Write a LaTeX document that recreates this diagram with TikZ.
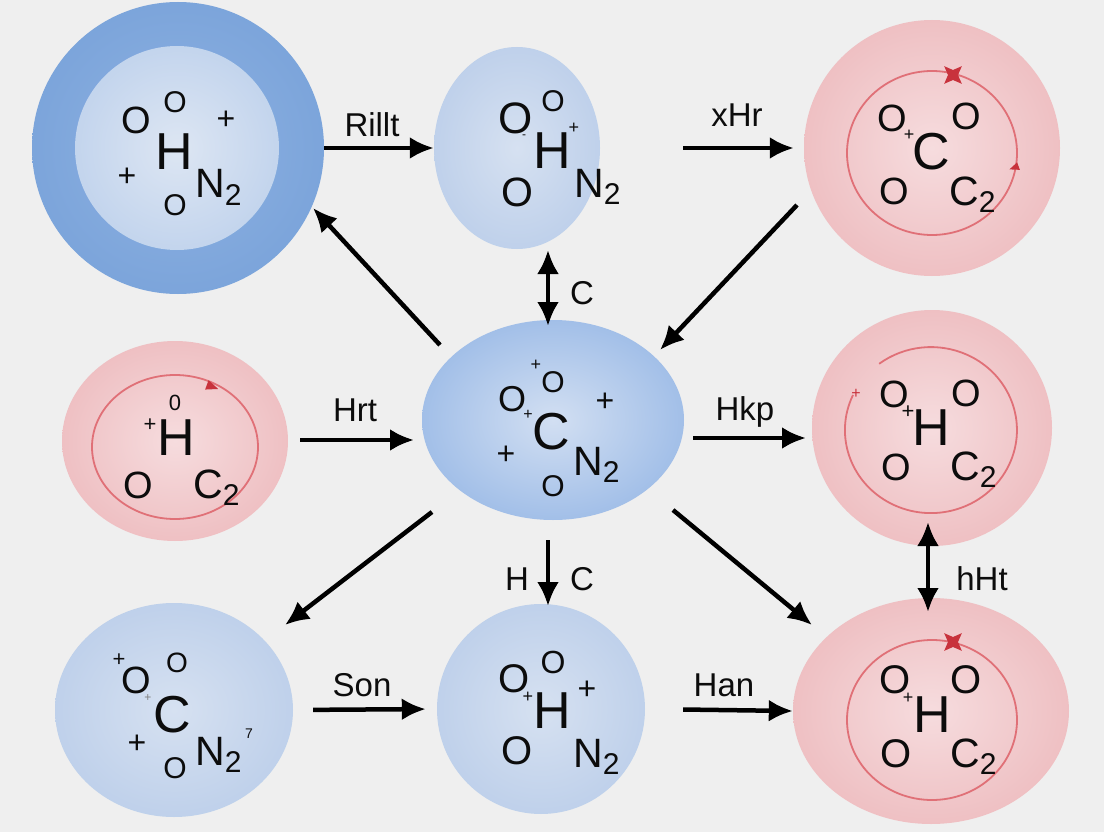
\documentclass[tikz,border=0pt]{standalone}
\usepackage{fontspec}
\setmainfont{Liberation Sans}
\usetikzlibrary{arrows.meta,shapes.geometric}

\definecolor{bgc}{HTML}{EFEFEF}
\definecolor{ink}{HTML}{0C0C0C}
\definecolor{ringc}{HTML}{E07077}
\definecolor{markc}{HTML}{C8323C}
\definecolor{tloutc}{HTML}{8EB2E2}
\definecolor{tloute}{HTML}{6A97D3}
\definecolor{tlinc}{HTML}{DDE6F3}
\definecolor{tline}{HTML}{A9C3E7}
\definecolor{palec}{HTML}{D6E1F1}
\definecolor{palee}{HTML}{A8C0E4}
\definecolor{midc}{HTML}{D2DFF2}
\definecolor{midm}{HTML}{A2BFE8}
\definecolor{mide}{HTML}{6A97D5}
\definecolor{pinkc}{HTML}{F6DCDE}
\definecolor{pinke}{HTML}{E7A4A8}

\pgfdeclareradialshading{tlout}{\pgfpoint{0bp}{0bp}}{color(0bp)=(tloutc); color(50bp)=(tloute)}
\pgfdeclareradialshading{tlin}{\pgfpoint{0bp}{0bp}}{color(0bp)=(tlinc); color(50bp)=(tline)}
\pgfdeclareradialshading{paleball}{\pgfpoint{0bp}{0bp}}{color(0bp)=(palec); color(50bp)=(palee)}
\pgfdeclareradialshading{midball}{\pgfpoint{0bp}{0bp}}{color(0bp)=(midc); color(25bp)=(midm); color(50bp)=(mide)}
\pgfdeclareradialshading{pinkball}{\pgfpoint{0bp}{0bp}}{color(0bp)=(pinkc); color(50bp)=(pinke)}

\newcommand\subtwo{\raisebox{-7pt}{\fontsize{30}{30}\selectfont 2}}

\begin{document}
\begin{tikzpicture}[x=1pt,y=-1pt,
    every node/.style={inner sep=0pt,text=ink},
    arr/.style={line width=4.5pt,-{Latex[length=24pt,width=22pt]}},
    darr/.style={line width=4.5pt,{Latex[length=24pt,width=22pt]}-{Latex[length=24pt,width=22pt]}},
    lbl/.style={font=\fontsize{33}{33}\selectfont,anchor=base},
    big/.style={font=\fontsize{52}{52}\selectfont},
    oo/.style={font=\fontsize{38}{38}\selectfont},
    so/.style={font=\fontsize{30}{30}\selectfont},
    pl/.style={font=\fontsize{32}{32}\selectfont},
    sp/.style={font=\fontsize{18}{18}\selectfont},
    sub/.style={font=\fontsize{41}{41}\selectfont,anchor=base west},
    ring/.style={draw=ringc,line width=1.8pt},
    spark/.style={star,star points=4,star point ratio=0.4,fill=markc,minimum size=10pt},
  ]
  \fill[bgc] (0,0) rectangle (1104,832);
  \useasboundingbox (0,0) rectangle (1104,832);

  % balls
  \node[circle,minimum size=292pt,shading=tlout] (tl) at (178,148) {};
  \node[circle,minimum size=204pt,shading=tlin] (tli) at (177,148) {};
  \node[ellipse,minimum width=166pt,minimum height=202pt,shading=paleball] (tm) at (517,148) {};
  \node[circle,minimum size=256pt,shading=pinkball] (tr) at (932,148) {};
  \node[ellipse,minimum width=226pt,minimum height=200pt,shading=pinkball] (ml) at (175,441) {};
  \node[ellipse,minimum width=262pt,minimum height=200pt,shading=midball] (c) at (553,420) {};
  \node[ellipse,minimum width=240pt,minimum height=236pt,shading=pinkball] (mr) at (932,428) {};
  \node[ellipse,minimum width=238pt,minimum height=214pt,shading=paleball] (bl) at (174,710) {};
  \node[ellipse,minimum width=208pt,minimum height=210pt,shading=paleball] (bm) at (541,709) {};
  \node[ellipse,minimum width=276pt,minimum height=226pt,shading=pinkball] (br) at (931,711) {};

  % rings
  \draw[ring] (932,153) ellipse [x radius=85pt,y radius=82pt];
  \draw[ring] (175,447) ellipse [x radius=83pt,y radius=72pt];
  \draw[ring] (853,395) arc [start angle=155,end angle=487,x radius=86pt,y radius=83pt];
  \draw[ring] (932,720) ellipse [x radius=85pt,y radius=80pt];
  \node[spark] (mk1) at (953,75) {};
  \node[isosceles triangle,fill=markc,minimum width=8pt,minimum height=9pt,rotate=200] (mk2) at (1016,167) {};
  \node[isosceles triangle,fill=markc,minimum width=10pt,minimum height=11pt,rotate=-20] (mk3) at (210,386) {};
  \node[spark] (mk4) at (953,642) {};

  % top left
  \node[oo] (tl1) at (136,120) {O};
  \node[so] (tl2) at (175,102) {O};
  \node[pl] (tl3) at (226,120) {+};
  \node[big] (tl4) at (174,152) {H};
  \node[pl] (tl5) at (127,177) {+};
  \node[so] (tl6) at (175,205) {O};
  \node[sub] (tl7) at (195,198) {N\subtwo};

  % top middle
  \node[font=\fontsize{44}{44}\selectfont] (tm1) at (516,118) {O};
  \node[so] (tm2) at (553,101) {O};
  \node[sp] (tm3) at (574,128) {+};
  \node[font=\fontsize{12}{12}\selectfont] (tm4) at (524,137) {-};
  \node[big] (tm5) at (552,151) {H};
  \node[font=\fontsize{41}{41}\selectfont] (tm6) at (517,192) {O};
  \node[sub] (tm7) at (574,197) {N\subtwo};

  % top right
  \node[oo] (tr1) at (892,118) {O};
  \node[oo] (tr2) at (966,116) {O};
  \node[sp] (tr3) at (909,135) {+};
  \node[big] (tr4) at (931,152) {C};
  \node[oo] (tr5) at (894,191) {O};
  \node[sub] (tr6) at (949,205) {C\subtwo};

  % middle left
  \node[font=\fontsize{22}{22}\selectfont] (ml1) at (175,403) {0};
  \node[font=\fontsize{22}{22}\selectfont] (ml2) at (150,425) {+};
  \node[big] (ml3) at (176,438) {H};
  \node[oo] (ml4) at (138,485) {O};
  \node[sub] (ml5) at (193,498) {C\subtwo};

  % centre
  \node[sp] (c1) at (536,365) {+};
  \node[so] (c2) at (553,382) {O};
  \node[font=\fontsize{36}{36}\selectfont] (c3) at (512,399) {O};
  \node[font=\fontsize{16}{16}\selectfont] (c4) at (528,415) {+};
  \node[pl] (c5) at (605,402) {+};
  \node[big] (c6) at (551,432) {C};
  \node[pl] (c7) at (506,455) {+};
  \node[so] (c8) at (553,486) {O};
  \node[sub] (c9) at (573,475) {N\subtwo};

  % middle right
  \node[font=\fontsize{16}{16}\selectfont,text=markc] (mr1) at (856,394) {+};
  \node[oo] (mr2) at (894,394) {O};
  \node[oo] (mr3) at (966,393) {O};
  \node[font=\fontsize{22}{22}\selectfont] (mr4) at (908,412) {+};
  \node[big] (mr5) at (931,428) {H};
  \node[oo] (mr6) at (896,467) {O};
  \node[sub] (mr7) at (950,480) {C\subtwo};

  % bottom left
  \node[font=\fontsize{22}{22}\selectfont] (bl1) at (119,660) {+};
  \node[oo] (bl2) at (136,680) {O};
  \node[font=\fontsize{28}{28}\selectfont] (bl3) at (177,663) {O};
  \node[font=\fontsize{12}{12}\selectfont,text=gray] (bl4) at (148,698) {+};
  \node[big] (bl5) at (172,715) {C};
  \node[pl] (bl6) at (137,744) {+};
  \node[sub] (bl7) at (195,765) {N\subtwo};
  \node[font=\fontsize{14}{14}\selectfont] (bl8) at (249,734) {7};
  \node[so] (bl9) at (175,768) {O};

  % bottom middle
  \node[font=\fontsize{32}{32}\selectfont] (bm1) at (553,662) {O};
  \node[font=\fontsize{40}{40}\selectfont] (bm2) at (514,679) {O};
  \node[sp] (bm3) at (528,697) {+};
  \node[pl] (bm4) at (587,690) {+};
  \node[big] (bm5) at (552,711) {H};
  \node[font=\fontsize{40}{40}\selectfont] (bm6) at (517,751) {O};
  \node[sub] (bm7) at (573,767) {N\subtwo};

  % bottom right
  \node[font=\fontsize{40}{40}\selectfont] (br1) at (895,680) {O};
  \node[font=\fontsize{40}{40}\selectfont] (br2) at (966,680) {O};
  \node[sp] (br3) at (908,698) {+};
  \node[big] (br4) at (932,715) {H};
  \node[font=\fontsize{40}{40}\selectfont] (br5) at (896,754) {O};
  \node[sub] (br6) at (950,767) {C\subtwo};

  % arrow ends
  \coordinate (trc1) at (797,205);
  \coordinate (trc2) at (660,350);
  \coordinate (ctl1) at (440,345);
  \coordinate (ctl2) at (313,208);
  \coordinate (tmc1) at (548,250);
  \coordinate (tmc2) at (548,326);
  \coordinate (mlc1) at (300,440);
  \coordinate (mlc2) at (414,440);
  \coordinate (cmr1) at (693,438);
  \coordinate (cmr2) at (806,438);
  \coordinate (cbl1) at (432,512);
  \coordinate (cbl2) at (285,625);
  \coordinate (cbm1) at (548,540);
  \coordinate (cbm2) at (548,606);
  \coordinate (cbr1) at (673,510);
  \coordinate (cbr2) at (812,625);
  \coordinate (mrbr1) at (928,522);
  \coordinate (mrbr2) at (928,612);

  % arrows
  \draw[arr] (tl.east) -- (tm.west);
  \draw[arr,shorten <=83pt,shorten >=10pt] (tm.east) -- (tr.west);
  \draw[arr] (trc1) -- (trc2);
  \draw[arr] (ctl1) -- (ctl2);
  \draw[darr] (tmc1) -- (tmc2);
  \draw[arr] (mlc1) -- (mlc2);
  \draw[arr] (cmr1) -- (cmr2);
  \draw[arr] (cbl1) -- (cbl2);
  \draw[arr] (cbm1) -- (cbm2);
  \draw[arr] (cbr1) -- (cbr2);
  \draw[darr] (mrbr1) -- (mrbr2);
  \draw[arr,shorten <=20pt,shorten >=11pt] (bl.east) -- (bm.west);
  \draw[arr,shorten <=38pt] (bm.east) -- (br.west);

  % labels
  \node[lbl] (l1) at (372,137) {Rillt};
  \node[lbl] (l2) at (737,127) {xHr};
  \node[lbl] (l3) at (582,304) {C};
  \node[lbl] (l4) at (355,421) {Hrt};
  \node[lbl] (l5) at (745,420) {Hkp};
  \node[lbl] (l6) at (517,590) {H};
  \node[lbl] (l7) at (582,590) {C};
  \node[lbl] (l8) at (982,590) {hHt};
  \node[lbl] (l9) at (362,696) {Son};
  \node[lbl] (l10) at (724,696) {Han};
\end{tikzpicture}
\end{document}
